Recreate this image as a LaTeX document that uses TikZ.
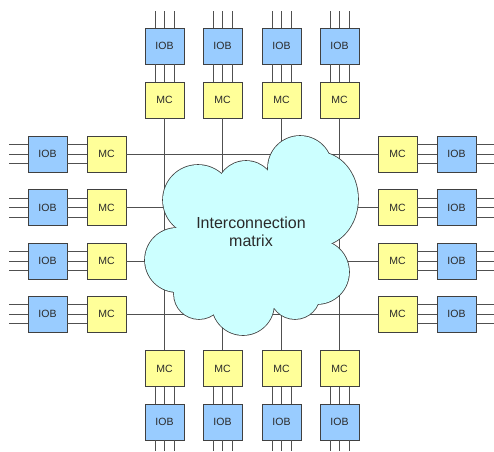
\documentclass[tikz,border=0pt]{standalone}
\usepackage{fontspec}
\setmainfont{Liberation Sans}
\definecolor{iobfill}{HTML}{99CCFF}
\definecolor{mcfill}{HTML}{FFFF99}
\definecolor{cloudfill}{HTML}{CCFFFF}
\definecolor{edgec}{HTML}{404040}
\definecolor{wirec}{HTML}{505050}
\definecolor{txtc}{HTML}{2A2A2A}
\begin{document}
\begin{tikzpicture}[x=1pt,y=-1pt,
  blk/.style={draw=edgec, line width=0.8pt, minimum width=39pt, minimum height=36pt,
    inner sep=0pt, font=\fontsize{10.5}{12}\selectfont, text=txtc},
  iob/.style={blk, fill=iobfill},
  mc/.style={blk, fill=mcfill},
  wire/.style={draw=wirec, line width=0.8pt},
  cloudedge/.style={draw=edgec, line width=1.6pt},
]
\useasboundingbox (0,0) rectangle (494,451);

% columns (top / bottom)
\foreach \i/\x in {1/164.5,2/222.5,3/281.5,4/339.5}{
  \node[iob] (tI\i) at (\x,46) {IOB};
  \node[mc]  (tM\i) at (\x,100) {MC};
  \node[mc]  (bM\i) at (\x,368.5) {MC};
  \node[iob] (bI\i) at (\x,422) {IOB};
  \coordinate (tT\i) at (\x,11);
  \coordinate (bB\i) at (\x,451);
  \foreach \d in {-9.5,0,9.5}{
    \draw[wire] ([xshift=\d pt]tT\i) -- ([xshift=\d pt]tI\i.north);
    \draw[wire] ([xshift=\d pt]tI\i.south) -- ([xshift=\d pt]tM\i.north);
    \draw[wire] ([xshift=\d pt]bM\i.south) -- ([xshift=\d pt]bI\i.north);
    \draw[wire] ([xshift=\d pt]bI\i.south) -- ([xshift=\d pt]bB\i);
  }
  \draw[wire] (tM\i.south) -- (bM\i.north);
}

% rows (left / right)
\foreach \j/\y in {1/154,2/207.5,3/261,4/314}{
  \node[iob] (lI\j) at (47.5,\y) {IOB};
  \node[mc]  (lM\j) at (106.5,\y) {MC};
  \node[mc]  (rM\j) at (397.5,\y) {MC};
  \node[iob] (rI\j) at (456.5,\y) {IOB};
  \coordinate (lL\j) at (9,\y);
  \coordinate (rR\j) at (494,\y);
  \foreach \d in {-9.5,0,9.5}{
    \draw[wire] ([yshift=\d pt]lL\j) -- ([yshift=\d pt]lI\j.west);
    \draw[wire] ([yshift=\d pt]lI\j.east) -- ([yshift=\d pt]lM\j.west);
    \draw[wire] ([yshift=\d pt]rM\j.east) -- ([yshift=\d pt]rI\j.west);
    \draw[wire] ([yshift=\d pt]rI\j.east) -- ([yshift=\d pt]rR\j);
  }
  \draw[wire] (lM\j.east) -- (rM\j.west);
}

% cloud: outline pass, then fill pass
\foreach \cx/\cy/\r in {198/200/35, 246/190.5/29.5, 300/168/32, 317/272/32,
                         295/294/25, 243/304/31, 199/294/25, 177/260/32}{
  \draw[cloudedge] (\cx,\cy) circle[radius=\r];
}
\draw[cloudedge] (318,199) circle[x radius=40, y radius=47];
\foreach \cx/\cy/\r in {198/200/35, 246/190.5/29.5, 300/168/32, 317/272/32,
                         295/294/25, 243/304/31, 199/294/25, 177/260/32}{
  \fill[cloudfill] (\cx,\cy) circle[radius=\r];
}
\fill[cloudfill] (318,199) circle[x radius=40, y radius=47];
\fill[cloudfill] (198,200) -- (246,190.5) -- (300,168) -- (318,199) -- (317,272)
  -- (295,294) -- (243,304) -- (199,294) -- (177,260) -- cycle;

\node[font=\fontsize{16}{18}\selectfont, text=txtc, align=center] (lbl) at (251,232)
  {Interconnection\\matrix};
\end{tikzpicture}
\end{document}
